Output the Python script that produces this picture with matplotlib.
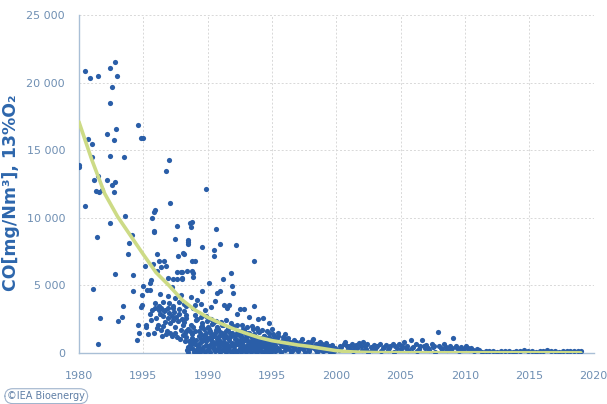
import matplotlib
matplotlib.use("Agg")
import matplotlib.pyplot as plt
import numpy as np

# 1980-1985: high emission outliers
pts_early = [
    (1980.0, 13900), (1980.0, 13750), (1980.5, 20870), (1980.85, 20330), (1981.5, 20520),
    (1982.45, 21070), (1982.8, 21510), (1982.96, 20520), (1982.6, 19680), (1982.4, 18480),
    (1984.6, 16850), (1982.9, 16580), (1982.2, 16230), (1982.75, 15760), (1980.7, 15810),
    (1981.0, 15440), (1984.8, 15900), (1985.0, 15930), (1981.0, 14500), (1982.45, 14560),
    (1983.5, 14500), (1981.15, 12820), (1981.5, 13100), (1982.2, 12780), (1982.8, 12630),
    (1982.55, 12430), (1981.3, 12000), (1981.6, 11890), (1981.8, 12060), (1982.75, 11940),
    (1980.46, 10880), (1983.56, 10160), (1982.4, 9640), (1981.4, 8560), (1984.1, 8730),
    (1983.9, 8120), (1983.8, 7330), (1982.8, 5870), (1984.2, 5750), (1981.1, 4710),
    (1983.4, 3500), (1981.65, 2610), (1983.35, 2690), (1983.0, 2350), (1981.5, 690),
    (1984.8, 3430), (1984.9, 3550), (1984.6, 2050), (1985.2, 2070), (1984.2, 4570),
    (1984.95, 4980), (1985.3, 4660), (1984.9, 4290), (1985.1, 6460),
]

# 1985-1995: scattered points above the dense band
pts_mid = [
    (1987.0, 14280), (1986.75, 13450), (1987.05, 11120), (1985.9, 10580), (1985.8, 10430),
    (1985.65, 10010), (1985.8, 9050), (1985.8, 8930), (1987.66, 9420), (1988.6, 9600),
    (1988.8, 9670), (1987.5, 8410), (1988.45, 8360), (1988.45, 8190), (1988.45, 8040),
    (1986.05, 7350), (1987.7, 7150), (1988.1, 7380), (1988.8, 6810), (1989.0, 6830),
    (1989.9, 12110), (1988.7, 9350), (1990.65, 9150), (1989.6, 7840), (1990.5, 7600),
    (1990.5, 7200), (1991.0, 8040), (1992.2, 7990), (1993.6, 6790), (1988.8, 6070),
    (1988.85, 5900), (1988.9, 5650), (1988.0, 5990), (1988.0, 5530), (1988.2, 7330),
    (1991.2, 5500), (1991.8, 5940), (1990.1, 5200), (1989.6, 4610), (1991.86, 4960),
    (1991.0, 4610), (1990.7, 4420), (1992.0, 4460), (1988.7, 4170), (1990.6, 3830),
    (1989.2, 3900), (1989.5, 3600), (1989.0, 3550), (1985.75, 6590), (1986.2, 6810),
    (1986.4, 6390), (1986.05, 6090), (1986.6, 6790), (1986.8, 6460), (1987.6, 5970),
    (1987.95, 6000), (1988.4, 6050), (1986.96, 5530), (1987.2, 4910), (1987.35, 5450),
    (1987.6, 5450), (1988.0, 5480), (1985.6, 5400), (1985.5, 5200), (1985.5, 4640),
    (1986.3, 4400), (1986.9, 4200), (1987.5, 4100), (1987.9, 4300), (1986.5, 3800),
    (1987.0, 3700), (1987.8, 3750), (1986.2, 3500), (1985.9, 3300), (1986.7, 3200),
    (1987.3, 3350), (1988.3, 3450), (1988.9, 3300), (1989.8, 3150), (1990.3, 3400),
    (1991.3, 3570), (1991.65, 3530), (1991.5, 3310), (1992.5, 3290), (1992.85, 3290),
    (1993.6, 3490), (1994.8, 2200), (1992.3, 2900), (1993.2, 2700), (1993.9, 2500),
    (1994.3, 2600), (1995.0, 1800), (1995.5, 1500),
    (1985.6, 2440), (1985.8, 1460), (1985.9, 3680), (1986.05, 1830), (1986.2, 3180),
    (1986.3, 2900), (1986.4, 3350), (1986.5, 2750), (1986.6, 3100), (1986.7, 2300),
    (1986.75, 1400), (1986.9, 2600), (1987.0, 3000), (1987.1, 2200), (1987.2, 2750),
    (1987.3, 2450), (1987.4, 3050), (1987.5, 1900), (1987.55, 2650), (1987.7, 2350),
    (1987.8, 2900), (1987.9, 1700), (1988.0, 2500), (1988.1, 2100), (1988.2, 3100),
    (1988.3, 1600), (1985.5, 2900), (1985.7, 3200), (1986.0, 2600), (1986.15, 2100),
    (1986.35, 1700), (1986.55, 2000), (1986.85, 1650), (1987.05, 1500), (1987.25, 1250),
    (1987.45, 1450), (1987.65, 1200), (1987.85, 1050), (1988.05, 1350), (1988.25, 900),
    (1986.45, 1250), (1985.35, 1400), (1986.95, 3350), (1987.35, 3500), (1987.75, 3250),
    (1988.15, 3600), (1988.35, 2800), (1985.25, 1900), (1984.7, 1500), (1984.55, 1000),
]

# 1988-1996: dense band near the axis
pts_dense = [
    (1988.2, 2300), (1988.5, 1800), (1988.3, 1200), (1988.6, 600), (1988.4, 200),
    (1988.25, 1500), (1988.55, 900), (1988.35, 2600), (1988.45, 100), (1988.65, 400),
    (1988.7, 2100), (1989.0, 1650), (1988.8, 1100), (1989.05, 700), (1988.85, 300),
    (1988.95, 50), (1988.75, 1400), (1989.1, 2450), (1988.9, 900), (1989.15, 150),
    (1989.2, 2500), (1989.45, 1950), (1989.3, 1300), (1989.5, 800), (1989.25, 350),
    (1989.4, 100), (1989.35, 1600), (1989.55, 2200), (1989.28, 550), (1989.48, 1050),
    (1989.6, 2000), (1989.85, 1500), (1989.7, 1000), (1989.9, 600), (1989.65, 250),
    (1989.8, 80), (1989.75, 1750), (1989.95, 2350), (1989.68, 450), (1989.88, 1200),
    (1990.0, 1900), (1990.25, 1400), (1990.1, 1150), (1990.3, 700), (1990.05, 300),
    (1990.2, 60), (1990.15, 1600), (1990.35, 2150), (1990.08, 500), (1990.28, 950),
    (1990.4, 2250), (1990.65, 1700), (1990.5, 1250), (1990.7, 850), (1990.45, 400),
    (1990.6, 120), (1990.55, 1500), (1990.75, 1950), (1990.48, 650), (1990.68, 200),
    (1990.8, 1800), (1991.05, 1350), (1990.9, 1000), (1991.1, 650), (1990.85, 300),
    (1991.0, 90), (1990.95, 1550), (1991.15, 2050), (1990.88, 450), (1991.08, 800),
    (1991.2, 2100), (1991.45, 1600), (1991.3, 1100), (1991.5, 700), (1991.25, 350),
    (1991.4, 100), (1991.35, 1350), (1991.55, 1850), (1991.28, 550), (1991.48, 200),
    (1991.6, 1750), (1991.85, 1300), (1991.7, 950), (1991.9, 600), (1991.65, 250),
    (1991.8, 60), (1991.75, 1500), (1991.95, 2000), (1991.68, 450), (1991.88, 750),
    (1992.0, 1900), (1992.25, 1450), (1992.1, 1050), (1992.3, 700), (1992.05, 300),
    (1992.2, 80), (1992.15, 1250), (1992.35, 1650), (1992.08, 500), (1992.28, 150),
    (1992.4, 1600), (1992.65, 1200), (1992.5, 900), (1992.7, 550), (1992.45, 250),
    (1992.6, 50), (1992.55, 1400), (1992.75, 1800), (1992.48, 400), (1992.68, 700),
    (1992.8, 1700), (1993.05, 1300), (1992.9, 950), (1993.1, 600), (1992.85, 300),
    (1993.0, 100), (1992.95, 1100), (1993.15, 1500), (1992.88, 450), (1993.08, 200),
    (1993.2, 1500), (1993.45, 1150), (1993.3, 850), (1993.5, 500), (1993.25, 250),
    (1993.4, 60), (1993.35, 1300), (1993.55, 1750), (1993.28, 350), (1993.48, 650),
    (1993.6, 1400), (1993.85, 1050), (1993.7, 750), (1993.9, 450), (1993.65, 200),
    (1993.8, 50), (1993.75, 1200), (1993.95, 1600), (1993.68, 600), (1993.88, 150),
    (1994.0, 1550), (1994.25, 1100), (1994.1, 800), (1994.3, 500), (1994.05, 250),
    (1994.2, 80), (1994.15, 950), (1994.35, 1300), (1994.08, 350), (1994.28, 650),
    (1994.4, 1300), (1994.65, 1000), (1994.5, 700), (1994.7, 400), (1994.45, 200),
    (1994.6, 50), (1994.55, 1150), (1994.75, 1450), (1994.48, 550), (1994.68, 120),
    (1994.8, 1200), (1995.0, 900), (1994.9, 650), (1995.05, 400), (1994.85, 180),
    (1994.95, 60), (1994.88, 1050), (1995.1, 1400), (1994.92, 300), (1995.02, 500),
    # second pass to fill the solid mass
    (1988.6, 1600), (1988.9, 1900), (1989.1, 1000), (1989.3, 650), (1989.5, 1400),
    (1989.7, 1300), (1989.9, 900), (1990.1, 1750), (1990.3, 1100), (1990.5, 350),
    (1990.7, 1050), (1990.9, 1250), (1991.1, 1500), (1991.3, 850), (1991.5, 1200),
    (1991.7, 1100), (1991.9, 1450), (1992.1, 650), (1992.3, 1000), (1992.5, 1250),
    (1992.7, 850), (1992.9, 1450), (1993.1, 1000), (1993.3, 600), (1993.5, 1000),
    (1993.7, 950), (1993.9, 750), (1994.1, 1150), (1994.3, 900), (1994.5, 300),
    (1994.7, 850), (1994.9, 800), (1988.5, 450), (1988.8, 700), (1989.2, 150),
    (1989.6, 300), (1990.0, 200), (1990.4, 800), (1990.8, 600), (1991.2, 250),
    (1991.6, 400), (1992.0, 150), (1992.4, 700), (1992.8, 200), (1993.2, 400),
    (1993.6, 300), (1994.0, 550), (1994.4, 100), (1994.8, 600), (1995.2, 150),
    (1989.05, 2800), (1989.45, 2650), (1989.85, 2750), (1990.25, 2500), (1990.65, 2400),
    (1991.05, 2300), (1991.45, 2450), (1991.85, 2250), (1992.25, 2100), (1992.65, 2050),
    (1993.05, 1950), (1993.45, 2000), (1993.85, 1850), (1994.25, 1700), (1994.65, 1650),
]

# 1995-2000
pts_late90s = [
    (1995.1, 950), (1995.2, 600), (1995.3, 250), (1995.4, 1100), (1995.5, 400),
    (1995.6, 750), (1995.7, 100), (1995.8, 900), (1995.9, 550), (1996.0, 200),
    (1996.1, 1050), (1996.2, 650), (1996.3, 300), (1996.4, 850), (1996.5, 100),
    (1996.6, 500), (1996.7, 950), (1996.8, 350), (1996.9, 700), (1997.0, 150),
    (1997.1, 600), (1997.3, 1010), (1997.2, 850), (1997.4, 300), (1997.5, 700),
    (1997.6, 80), (1997.7, 450), (1997.8, 800), (1997.9, 250), (1998.0, 600),
    (1998.2, 1010), (1998.1, 900), (1998.3, 350), (1998.4, 700), (1998.5, 100),
    (1998.6, 500), (1998.7, 850), (1998.8, 250), (1998.9, 650), (1999.0, 120),
    (1999.1, 450), (1999.2, 750), (1999.3, 200), (1999.4, 550), (1999.5, 80),
    (1999.6, 350), (1999.7, 600), (1999.8, 150), (1999.9, 400), (1995.15, 1300),
    (1995.45, 1250), (1995.85, 1200), (1996.25, 1150), (1996.05, 1400),
    (1995.25, 800), (1995.55, 200), (1995.75, 500), (1996.15, 350), (1996.45, 600),
    (1996.65, 250), (1996.85, 800), (1997.15, 350), (1997.45, 500), (1997.65, 650),
    (1997.85, 150), (1998.15, 450), (1998.45, 250), (1998.65, 750), (1998.85, 450),
    (1999.15, 250), (1999.45, 350), (1999.65, 150), (1999.85, 250),
]

# 2000-2011
pts_2000s = [
    (2000.2, 200), (2000.4, 450), (2000.6, 650), (2000.7, 840), (2000.9, 300),
    (2001.0, 550), (2001.2, 700), (2001.3, 150), (2001.5, 600), (2001.6, 400),
    (2001.8, 750), (2002.0, 250), (2002.1, 840), (2002.2, 500), (2002.4, 650),
    (2002.5, 100), (2002.7, 450), (2002.9, 600), (2003.0, 300), (2003.2, 550),
    (2003.4, 700), (2003.5, 150), (2003.7, 450), (2003.9, 600), (2004.0, 250),
    (2004.2, 500), (2004.4, 650), (2004.5, 100), (2004.7, 400), (2004.9, 700),
    (2005.0, 300), (2005.3, 840), (2005.5, 550), (2005.6, 200), (2005.8, 960),
    (2006.0, 450), (2006.2, 650), (2006.3, 150), (2006.5, 500), (2006.7, 960),
    (2006.9, 350), (2007.0, 600), (2007.2, 200), (2007.4, 700), (2007.5, 450),
    (2007.7, 100), (2007.9, 1530), (2008.0, 550), (2008.2, 300), (2008.4, 650),
    (2008.6, 200), (2008.8, 500), (2009.0, 350), (2009.1, 1130), (2009.3, 550),
    (2009.5, 150), (2009.7, 450), (2009.9, 300), (2010.1, 500), (2010.3, 200),
    (2010.5, 400), (2010.7, 150), (2010.9, 300), (2011.1, 200), (2011.3, 100),
    (2000.3, 500), (2000.8, 550), (2001.1, 300), (2001.4, 450), (2001.9, 500),
    (2002.3, 300), (2002.8, 250), (2003.1, 450), (2003.6, 350), (2004.1, 400),
    (2004.6, 550), (2005.1, 500), (2005.4, 400), (2005.9, 350), (2006.4, 300),
    (2006.8, 550), (2007.1, 400), (2007.6, 550), (2008.1, 400), (2008.5, 450),
    (2008.9, 300), (2009.4, 350), (2009.8, 250), (2010.2, 350), (2010.6, 250),
]

# 2011-2019
pts_2010s = [
    (2011.6, 150), (2011.9, 120), (2012.2, 180), (2012.5, 100), (2012.8, 160),
    (2013.1, 130), (2013.4, 190), (2013.7, 110), (2014.0, 170), (2014.3, 140),
    (2014.6, 200), (2014.9, 120), (2015.2, 160), (2015.5, 100), (2015.8, 180),
    (2016.1, 140), (2016.4, 200), (2016.7, 120), (2017.0, 160), (2017.3, 110),
    (2017.6, 190), (2017.9, 140), (2018.2, 170), (2018.5, 120), (2018.8, 180),
    (2019.0, 150),
]

# trend line
trend_years = [1980, 1981, 1982, 1983, 1984, 1985, 1986, 1987, 1988, 1989, 1990,
               1991, 1992, 1993, 1994, 1995, 1996, 1997, 1998, 1999, 2000, 2001,
               2002, 2003, 2004, 2006, 2008, 2010, 2013, 2016, 2019]
trend_co = [17100, 14300, 11800, 10100, 8700, 7300, 5950, 5000, 3950, 3200, 2650,
            2200, 1800, 1460, 1150, 920, 760, 600, 480, 330, 180, 100,
            60, 40, 30, 25, 25, 25, 25, 25, 25]

x_ticks = [1980, 1985, 1990, 1995, 2000, 2005, 2010, 2015, 2020]
x_labels = ["1980", "1995", "1990", "1995", "2000", "2005", "2010", "2015", "2020"]
y_ticks = [0, 5000, 10000, 15000, 20000, 25000]
y_labels = ["0", "5 000", "10 000", "15 000", "20 000", "25 000"]

blue = "#2a5ea8"
tick_col = "#6f8fb3"

all_pts = pts_early + pts_mid + pts_dense + pts_late90s + pts_2000s + pts_2010s
xs = np.array([p[0] for p in all_pts])
ys = np.array([p[1] for p in all_pts])

fig = plt.figure(figsize=(6.07, 4.04), dpi=100)
ax = fig.add_axes([0.130, 0.126, 0.848, 0.837])

ax.scatter(xs, ys, s=14, color=blue, linewidths=0, zorder=3)
ax.plot(trend_years, trend_co, color="#cddb86", lw=2.6, zorder=4, solid_capstyle="round")

ax.set_xlim(1980, 2020)
ax.set_ylim(0, 25000)
ax.set_xticks(x_ticks)
ax.set_xticklabels(x_labels)
ax.set_yticks(y_ticks)
ax.set_yticklabels(y_labels)
ax.tick_params(length=0, colors=tick_col, labelsize=8)
ax.tick_params(axis="x", pad=13)
ax.tick_params(axis="y", pad=10)

ax.grid(True, color="#d8d8d8", linestyle=(0, (2, 2)), lw=0.7)
ax.set_axisbelow(True)
for side in ["top", "right"]:
    ax.spines[side].set_visible(False)
for side in ["left", "bottom"]:
    ax.spines[side].set_color("#a9bfd6")
    ax.spines[side].set_linewidth(1.0)

ax.set_ylabel("CO[mg/Nm³], 13%O₂", color="#2d66ac", fontsize=12.5,
              fontweight="bold")
ax.yaxis.set_label_coords(-0.115, 0.475)

fig.text(0.012, 0.012, "©IEA Bioenergy", fontsize=7, color="#5f7fa6",
         bbox=dict(boxstyle="round,pad=0.25,rounding_size=0.8", fc="white",
                   ec="#9fb3cc", lw=0.8))

fig.savefig("out.png", dpi=100)
